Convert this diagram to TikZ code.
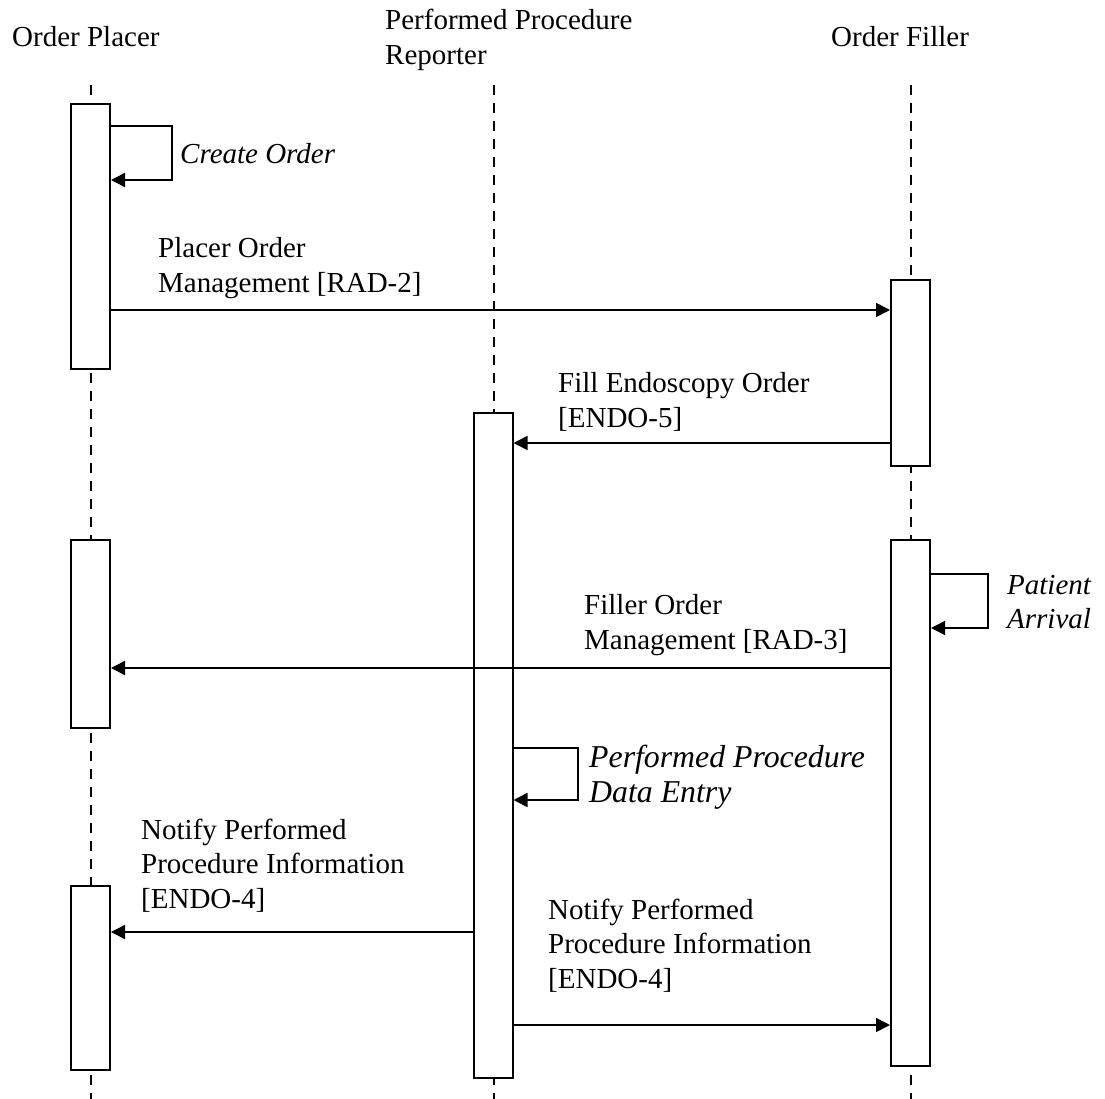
\documentclass[tikz,border=0pt]{standalone}
\usepackage{fontspec}
\setmainfont{Liberation Serif}
\usetikzlibrary{arrows.meta}
\begin{document}
\begin{tikzpicture}[x=1pt,y=-1pt,
  lbl/.style={inner sep=0pt,anchor=base west,align=left,font=\fontsize{29}{34.5}\selectfont},
  ilbl/.style={lbl,font=\fontsize{29}{34.5}\selectfont\itshape},
  lifeline/.style={line width=1.5pt,dash pattern=on 10pt off 8pt},
  act/.style={draw,fill=white,line width=2pt,minimum width=39pt,inner sep=0pt},
  msg/.style={line width=1.6pt,-{Triangle[length=14pt,width=14pt]}}]
\useasboundingbox (0,0) rectangle (1105,1099);
% lifelines
\coordinate (opT) at (91,85);  \coordinate (opB) at (91,1099);
\coordinate (ppT) at (494,85); \coordinate (ppB) at (494,1099);
\coordinate (ofT) at (911,85); \coordinate (ofB) at (911,1099);
\draw[lifeline] (opT) -- (opB);
\draw[lifeline] (ppT) -- (ppB);
\draw[lifeline] (ofT) -- (ofB);
% headers
\node[lbl] (hOP) at (12,47) {Order Placer};
\node[lbl] (hPP) at (385,64.5) {Performed Procedure\\Reporter};
\node[lbl] (hOF) at (831,47) {Order Filler};
% activation boxes
\node[act,minimum height=265pt] (opA1) at (90.5,236.5) {};
\node[act,minimum height=186pt] (ofA1) at (910.5,373) {};
\node[act,minimum height=665pt] (ppA1) at (493,745.5) {};
\node[act,minimum height=188pt] (opA2) at (90.5,634) {};
\node[act,minimum height=526pt] (ofA2) at (910.5,803) {};
\node[act,minimum height=184pt] (opA3) at (90.5,978) {};
% self loops
\draw[msg] (opA1.east |- 0,126) -- (172,126) -- (172,180) -- (opA1.east |- 0,180);
\node[ilbl] (tCO) at (180,164) {Create Order};
\draw[msg] (ofA2.east |- 0,574) -- (988,574) -- (988,628) -- (ofA2.east |- 0,628);
\node[ilbl] (tPA) at (1007,628.5) {Patient\\Arrival};
\draw[msg] (ppA1.east |- 0,748) -- (578,748) -- (578,800) -- (ppA1.east |- 0,800);
\node[ilbl,font=\fontsize{31.8}{35}\selectfont\itshape] (tPD) at (589,802) {Performed Procedure\\Data Entry};
% messages
\draw[msg] (opA1.east |- 0,310) -- (ofA1.west |- 0,310);
\node[lbl] (tM1) at (158,292) {Placer Order\\Management [RAD-2]};
\draw[msg] (ofA1.west |- 0,443) -- (ppA1.east |- 0,443);
\node[lbl] (tM2) at (558,427) {Fill Endoscopy Order\\{[ENDO-5]}};
\draw[msg] (ofA2.west |- 0,668) -- (opA2.east |- 0,668);
\node[lbl] (tM3) at (584,649) {Filler Order\\Management [RAD-3]};
\draw[msg] (ppA1.west |- 0,932) -- (opA3.east |- 0,932);
\node[lbl] (tM4) at (141,908) {Notify Performed\\Procedure Information\\{[ENDO-4]}};
\draw[msg] (ppA1.east |- 0,1025) -- (ofA2.west |- 0,1025);
\node[lbl] (tM5) at (548,988) {Notify Performed\\Procedure Information\\{[ENDO-4]}};
\end{tikzpicture}
\end{document}
